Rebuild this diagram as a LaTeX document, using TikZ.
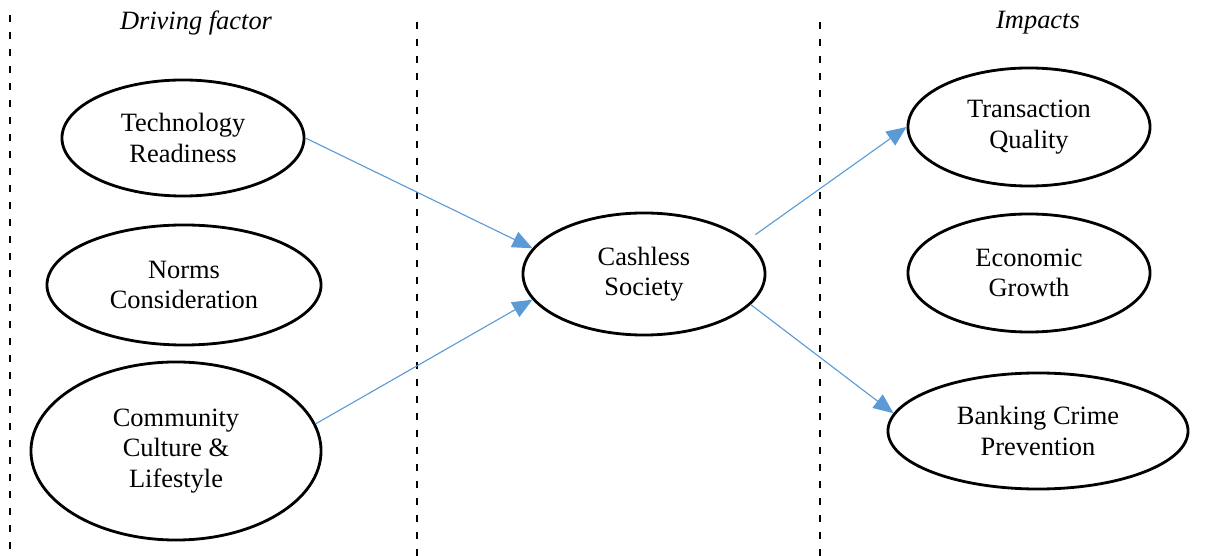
\documentclass[tikz,border=0pt]{standalone}
\usepackage{fontspec}
\setmainfont{Liberation Serif}
\usetikzlibrary{shapes.geometric,arrows.meta}
\definecolor{arrowblue}{RGB}{91,155,213}
\tikzset{
    factor/.style={ellipse,draw,line width=2pt,inner sep=0pt,align=center,
        font=\fontsize{18.8pt}{21.5pt}\selectfont},
    divider/.style={line width=1.3pt,dash pattern=on 0.175cm off 0.25cm},
    link/.style={arrowblue,line width=0.8pt,-{Triangle[length=0.5cm,width=0.42cm]}},
    heading/.style={font=\fontsize{18.8pt}{21.5pt}\selectfont\itshape}
}
\begin{document}
\begin{tikzpicture}[x=0.025cm,y=-0.025cm]
    \useasboundingbox (0,0) rectangle (1231,556);

    % column dividers
    \draw[divider] (10,15) -- (10,556);
    \draw[divider] (417,22) -- (417,556);
    \draw[divider] (820,22) -- (820,556);

    \node[heading] (drv) at (196,23) {Driving factor};
    \node[heading] (imp) at (1038,23) {Impacts};

    \begin{scope}
    \node[factor,minimum width=6.05cm,minimum height=2.9cm] (tech) at (183,138) {Technology\\Readiness};
    \node[factor,minimum width=6.85cm,minimum height=3cm] (norm) at (184,285) {Norms\\Consideration};
    \node[factor,minimum width=7.25cm,minimum height=4.45cm] (comm) at (176,451) {Community\\Culture \&\\Lifestyle};
    \end{scope}

    \node[factor,minimum width=6.05cm,minimum height=3.05cm] (cash) at (644,274) {Cashless\\Society};

    \begin{scope}
    \node[factor,minimum width=6.05cm,minimum height=2.95cm] (trans) at (1029,127) {Transaction\\Quality};
    \node[factor,minimum width=6.05cm,minimum height=2.95cm] (econ) at (1029,273) {Economic\\Growth};
    \node[factor,minimum width=7.5cm,minimum height=2.9cm] (bank) at (1038,431) {Banking Crime\\Prevention};
    \end{scope}

    \draw[link] (tech.east) -- (cash.167);
    \draw[link] (comm.11) -- (cash.193);
    \draw[link,shorten <=0.25cm] (cash.18) -- (trans.west);
    \draw[link] (cash.-16) -- (bank.173);
\end{tikzpicture}
\end{document}
